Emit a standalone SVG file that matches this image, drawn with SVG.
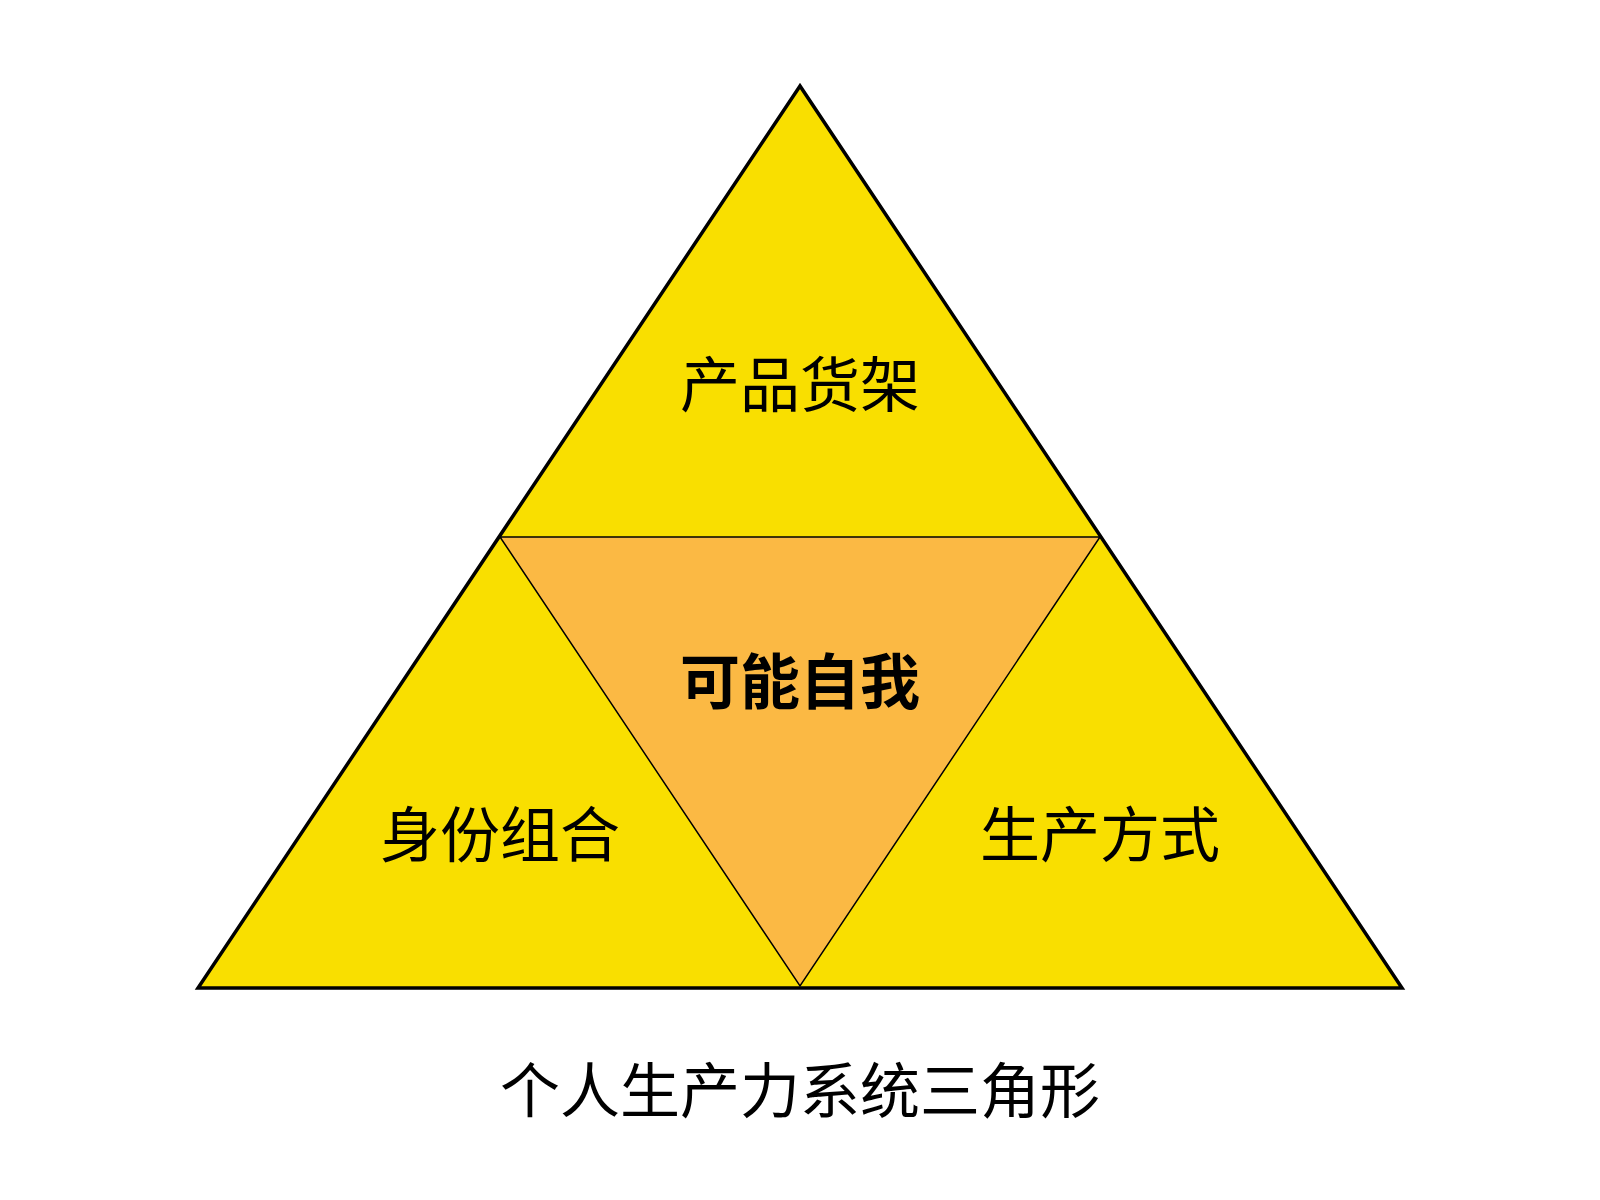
<svg xmlns="http://www.w3.org/2000/svg" width="1600" height="1200" viewBox="0 0 1600 1200">
<style>
.lbl{font-family:"Noto Sans CJK SC","Noto Sans",sans-serif;font-size:60px;fill:#000;text-anchor:middle;dominant-baseline:central}
.bold{font-weight:bold}
.title{font-size:60px}
</style>
<rect width="1600" height="1200" fill="#fff"/>
<g id="outer">
<polygon points="800,86 198,988 1402,988" fill="#F9DF00" stroke="none"/>
</g>
<g id="center-node">
<polygon points="500,537 1100,537 800,986" fill="#FBB944" stroke="#000" stroke-width="1.5" stroke-linejoin="miter"/>
<text class="lbl bold" x="800" y="677">可能自我</text>
</g>
<g id="connectors">
<polygon points="800,86 198,988 1402,988" fill="none" stroke="#000" stroke-width="3.5" stroke-linejoin="miter"/>
</g>
<g id="top-node"><text class="lbl" x="800" y="380">产品货架</text></g>
<g id="left-node"><text class="lbl" x="500" y="830">身份组合</text></g>
<g id="right-node"><text class="lbl" x="1100" y="830">生产方式</text></g>
<g id="title"><text class="lbl title" x="800" y="1086">个人生产力系统三角形</text></g>
</svg>
